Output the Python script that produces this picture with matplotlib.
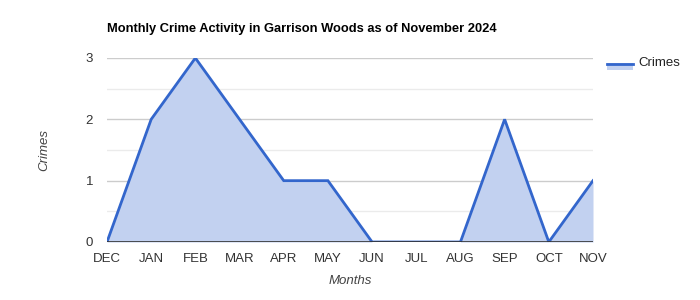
import numpy as np
import matplotlib
matplotlib.use("Agg")
import matplotlib.pyplot as plt
from matplotlib.lines import Line2D
from matplotlib.patches import Rectangle

months = ["DEC", "JAN", "FEB", "MAR", "APR", "MAY", "JUN", "JUL", "AUG", "SEP", "OCT", "NOV"]
crimes = [0, 2, 3, 2, 1, 1, 0, 0, 0, 2, 0, 1]
yticks = [0, 1, 2, 3]
minor_ticks = [0.5, 1.5, 2.5]

plt.rcParams['font.family'] = ['Liberation Sans', 'DejaVu Sans']

blue = "#3366cc"
fill = "#c2d1f0"

fig = plt.figure(figsize=(7, 3), dpi=100)
ax = fig.add_axes([107/700, 58/300, 486/700, 184/300])

x = np.arange(len(months))
ax.fill_between(x, crimes, 0, color=fill, lw=0, zorder=2)
ax.plot(x, crimes, color=blue, lw=2, zorder=3, solid_joinstyle="miter")

ax.set_xlim(0, len(months) - 1)
ax.set_ylim(0, 3)
for v in minor_ticks:
    ax.axhline(v, color="#ebebeb", lw=1, zorder=1)
for v in yticks[1:]:
    ax.axhline(v, color="#cccccc", lw=1, zorder=1)
ax.axhline(0, color="#333333", lw=1.2, zorder=4)

ax.set_xticks(x)
ax.set_xticklabels(months)
ax.set_yticks(yticks)
ax.tick_params(length=0, labelsize=9.5, colors="#333333")
ax.tick_params(axis="x", pad=8)
ax.tick_params(axis="y", pad=10)
for s in ax.spines.values():
    s.set_visible(False)

fig.text(107/700, 1 - 29/300, "Monthly Crime Activity in Garrison Woods as of November 2024",
         fontsize=9.3, fontweight="bold", color="#000000", va="center", ha="left")
fig.text(350/700, 1 - 281/300, "Months", fontsize=9.5, style="italic", color="#444444",
         ha="center", va="center")
fig.text(44/700, 1 - 150/300, "Crimes", fontsize=9.5, style="italic", color="#444444",
         ha="center", va="center", rotation=90)

# legend
fig.add_artist(Rectangle((607/700, 1 - 70/300), 26/700, 7/300, transform=fig.transFigure,
                         facecolor=fill, edgecolor="none"))
fig.add_artist(Line2D([607/700, 633/700], [1 - 64/300, 1 - 64/300], transform=fig.transFigure,
                      color=blue, lw=2))
fig.text(638/700, 1 - 63/300, "Crimes", fontsize=9.5, color="#222222", va="center", ha="left")

fig.savefig("out.png", dpi=100)
